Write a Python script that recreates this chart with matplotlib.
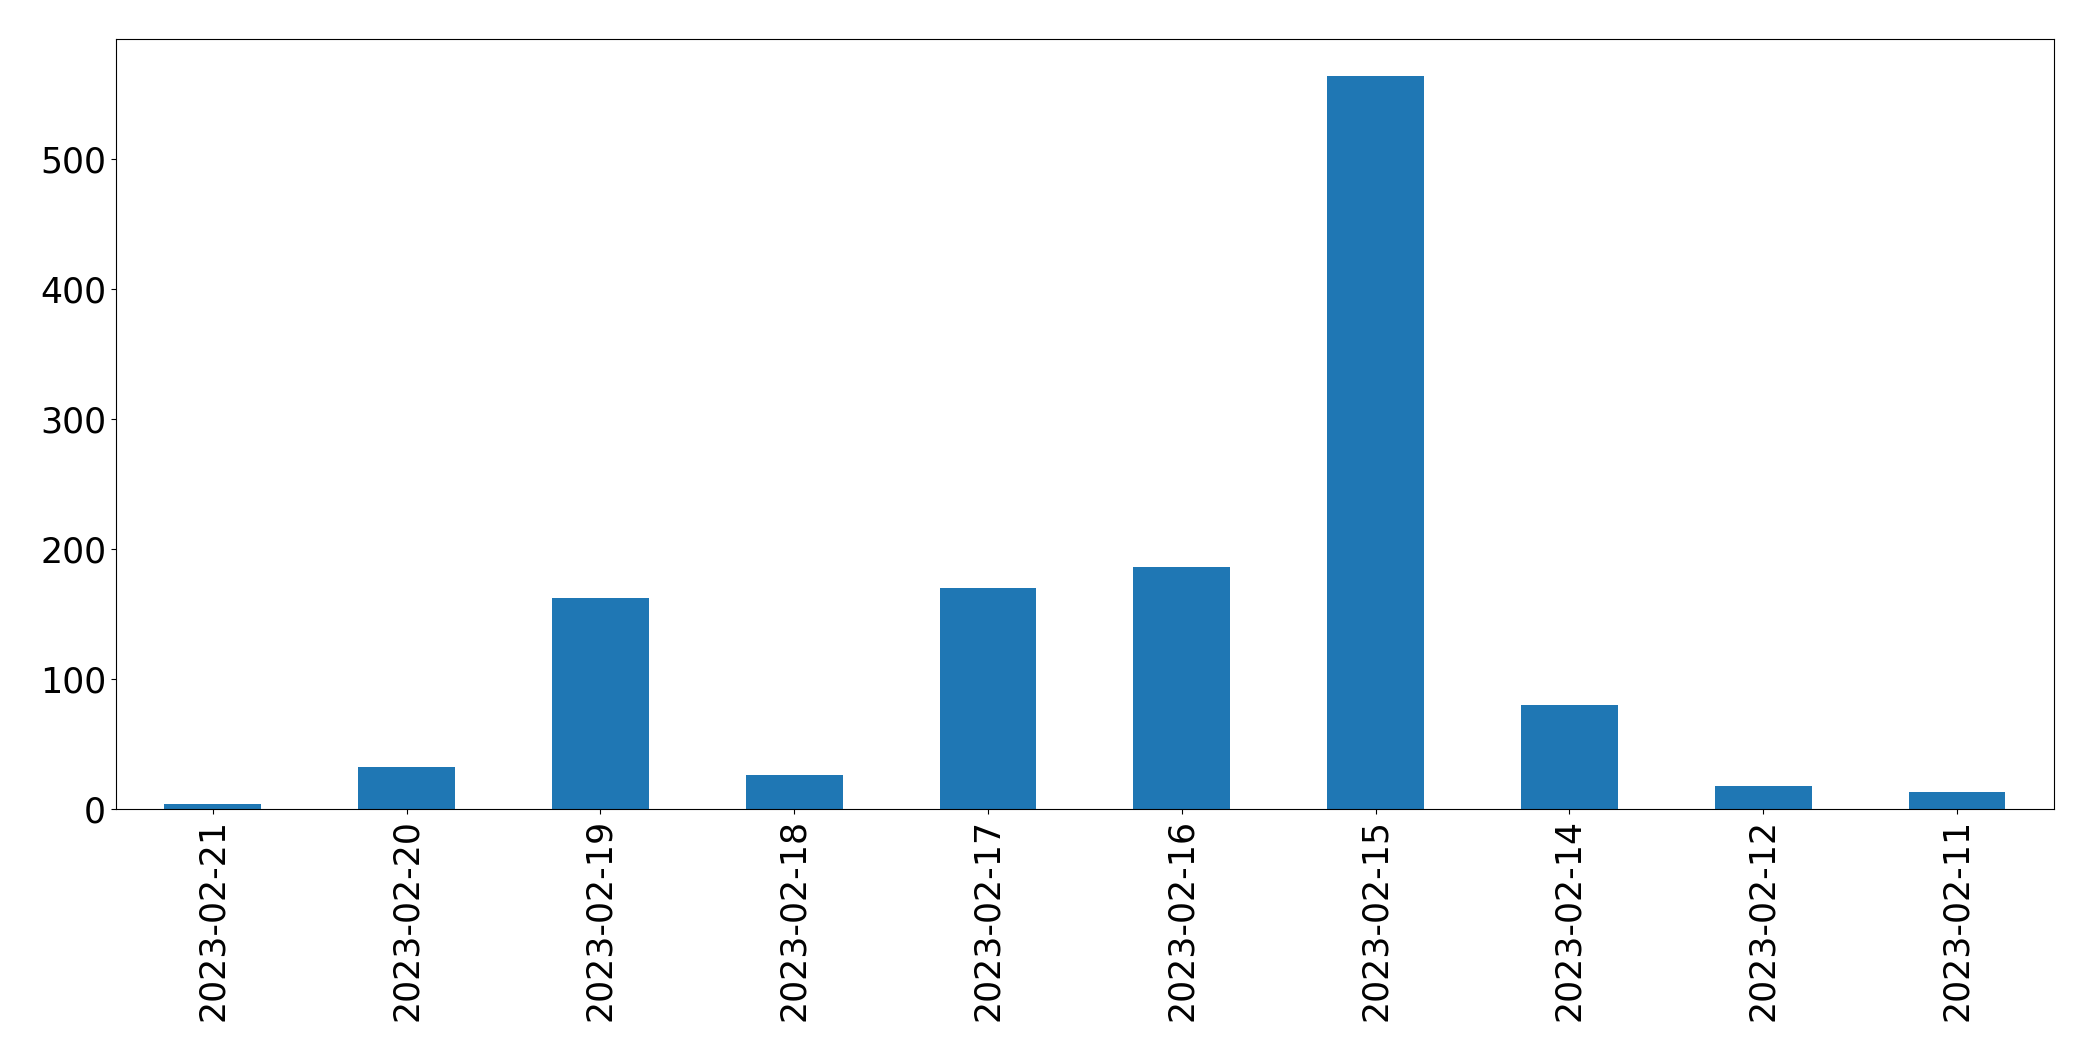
import matplotlib
matplotlib.use('Agg')
import matplotlib.pyplot as plt
import pandas as pd

dates = ['2023-02-21', '2023-02-20', '2023-02-19', '2023-02-18', '2023-02-17',
         '2023-02-16', '2023-02-15', '2023-02-14', '2023-02-12', '2023-02-11']
counts = [4, 32, 162, 26, 170, 186, 564, 80, 18, 13]

s = pd.Series(counts, index=dates)

fig = plt.figure(figsize=(20.93, 10.61), dpi=100)
ax = fig.add_axes([0.0554, 0.2375, 0.9259, 0.7257])
s.plot(kind='bar', ax=ax, color='#1f77b4')
ax.tick_params(axis='both', labelsize=25)
ax.set_xlabel('')

fig.savefig('out.png', dpi=100)
